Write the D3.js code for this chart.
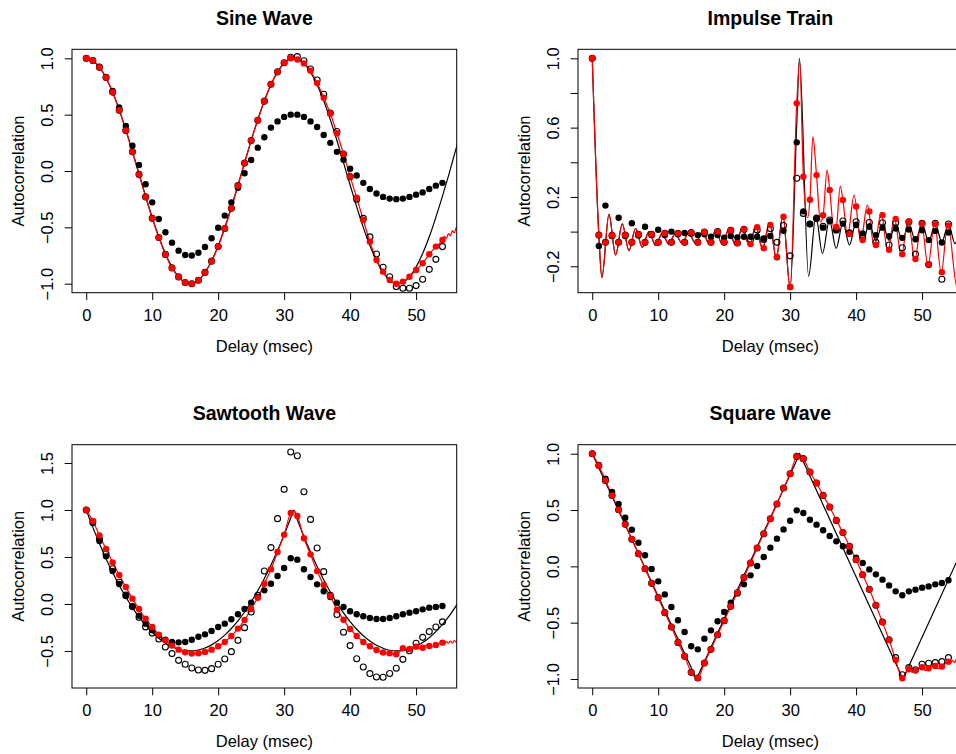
<!DOCTYPE html>
<html><head><meta charset="utf-8">
<script src="https://cdn.jsdelivr.net/npm/d3@7"></script>
<style>
body{margin:0;background:#fff}
svg{display:block}
text{font-family:"Liberation Sans",Arial,Helvetica,sans-serif;fill:#000}
</style>
</head><body>
<svg id="chart" width="956" height="754"></svg>
<script>
// ---------------- data ----------------
const lags = d3.range(0, 55);          // integer delays 0..54 msec
const xTicks = [0, 10, 20, 30, 40, 50];

// Sine wave
const sineTrue = [1,0.980,0.921,0.826,0.698,0.543,0.365,0.174,-0.025,-0.223,-0.411,-0.584,-0.733,-0.853,-0.940,-0.989,-0.999,-0.969,-0.901,-0.797,-0.662,-0.500,-0.318,-0.124,0.075,0.271,0.456,0.623,0.766,0.878,0.956,0.995,0.995,0.956,0.878,0.766,0.623,0.456,0.271,0.075,-0.124,-0.318,-0.500,-0.662,-0.797,-0.901,-0.969,-0.999,-0.989,-0.940,-0.853,-0.733,-0.584,-0.411,-0.223,-0.025,0.185,0.38];
const sineBiased = [1.0,0.98,0.925,0.835,0.71,0.565,0.40,0.225,0.053,-0.118,-0.278,-0.426,-0.544,-0.636,-0.707,-0.745,-0.75,-0.725,-0.674,-0.597,-0.503,-0.396,-0.278,-0.148,-0.02,0.098,0.207,0.30,0.385,0.44,0.48,0.50,0.50,0.48,0.44,0.39,0.32,0.25,0.17,0.10,0.02,-0.04,-0.105,-0.16,-0.20,-0.23,-0.245,-0.25,-0.245,-0.23,-0.21,-0.19,-0.16,-0.13,-0.105];
const sineUnbiased = [1.0,0.98,0.92,0.83,0.70,0.54,0.36,0.17,-0.03,-0.23,-0.42,-0.59,-0.74,-0.86,-0.94,-0.99,-1.0,-0.97,-0.90,-0.80,-0.67,-0.51,-0.33,-0.13,0.07,0.27,0.45,0.62,0.77,0.88,0.96,1.009,1.015,0.979,0.905,0.808,0.681,0.515,0.35,0.15,-0.05,-0.25,-0.42,-0.585,-0.736,-0.854,-0.938,-1.026,-1.04,-1.04,-1.017,-0.96,-0.873,-0.784,-0.671];
const sineRed = [1.0,0.98,0.92,0.83,0.70,0.54,0.36,0.17,-0.03,-0.23,-0.42,-0.59,-0.74,-0.86,-0.94,-0.99,-1.0,-0.97,-0.90,-0.80,-0.67,-0.51,-0.33,-0.13,0.07,0.27,0.45,0.62,0.77,0.88,0.96,1.0,0.99,0.955,0.89,0.78,0.65,0.51,0.335,0.151,-0.05,-0.237,-0.435,-0.627,-0.79,-0.893,-0.967,-1.0,-0.982,-0.938,-0.878,-0.819,-0.739,-0.671,-0.612];
const sineRedTailT = [54.3,54.6,54.9,55.2,55.5,55.8,56.1,56.4];
const sineRedTailV = [-0.58,-0.60,-0.555,-0.575,-0.53,-0.55,-0.50,-0.52];

// Impulse train
const impRed = [1.0,-0.02,-0.062,-0.022,-0.062,-0.02,-0.062,-0.016,-0.062,-0.016,-0.062,-0.01,-0.062,-0.01,-0.062,-0.006,-0.062,-0.003,-0.062,0.0,-0.062,0.007,-0.066,0.013,-0.072,0.025,-0.096,0.038,-0.145,0.086,-0.32,0.74,0.317,0.184,0.326,0.094,0.24,0.027,0.182,-0.013,0.145,-0.048,0.116,-0.077,0.095,-0.105,0.073,-0.13,0.057,-0.158,0.046,-0.19,0.043,-0.234,0.035];
const impBiased = [1.0,-0.083,0.15,-0.025,0.08,-0.025,0.048,-0.022,0.028,-0.02,0.011,-0.02,0.0,-0.015,-0.008,-0.012,-0.02,-0.015,-0.03,-0.02,-0.035,-0.025,-0.033,-0.03,-0.03,-0.03,-0.04,-0.025,-0.148,0.005,-0.32,0.515,0.117,0.044,0.08,0.023,0.06,0.007,0.046,-0.005,0.038,-0.01,0.028,-0.02,0.023,-0.027,0.018,-0.036,0.012,-0.044,0.008,-0.049,0.003,-0.063,-0.005];
const impUnbiased = [1.0,-0.02,-0.062,-0.022,-0.062,-0.02,-0.062,-0.016,-0.062,-0.016,-0.062,-0.01,-0.062,-0.01,-0.062,-0.006,-0.062,-0.003,-0.062,0.0,-0.062,0.007,-0.066,0.013,-0.045,0.01,-0.045,0.018,-0.062,0.035,-0.14,0.308,0.105,0.044,0.075,0.03,0.067,0.012,0.061,-0.01,0.057,-0.033,0.053,-0.062,0.051,-0.077,0.051,-0.093,0.057,-0.13,0.048,-0.19,0.048,-0.275,0.044];
const impTrueT = [0,1,1.46,2.53,3.54,4.55,5.56,6.57,7.58,8.6,9.6,10.6,11.6,12.6,13.6,14.6,15.65,16.7,17.7,18.7,19.7,20.7,21.7,22.8,23.8,24.8,25.8,26.9,27.9,28.9,30.0,31.0,31.4,32.8,33.9,34.9,35.96,36.97,38.0,39.0,40.0,41.0,42.0,43.0,44.0,45.0,46.0,47.0,48.0,49.0,50.0,51.0,52.0,53.0,54.0,55.0,56.0,57.0];
const impTrueV = [1,-0.02,-0.265,0.10,-0.135,0.045,-0.11,0.018,-0.09,0.0,-0.08,-0.01,-0.072,-0.01,-0.068,-0.007,-0.068,0.0,-0.068,0.005,-0.072,0.013,-0.076,0.025,-0.083,0.032,-0.098,0.052,-0.154,0.096,-0.325,0.62,1.0,-0.257,0.09,-0.126,0.067,-0.097,0.051,-0.077,0.057,-0.064,0.048,-0.053,0.044,-0.05,0.044,-0.05,0.044,-0.052,0.044,-0.055,0.044,-0.06,0.044,-0.07,0.04,-0.07];
const impRedLineT = [0,1,1.46,2.53,3.54,4.55,5.56,6.57,7.58,8.6,9.6,10.6,11.6,12.6,13.6,14.6,15.65,16.7,17.7,18.7,19.7,20.7,21.7,22.8,23.8,24.8,25.8,26.9,27.9,28.9,30.0,31.0,31.45,32.0,32.65,33.0,33.45,34.0,34.6,35.0,35.6,36.0,36.65,37.0,37.6,38.0,38.7,39.7,40.7,41.7,42.75,43.8,44.8,45.8,46.85,47.9,48.9,49.9,50.9,51.9,52.9,53.9,55.35,56.4];
const impRedLineV = [1,-0.02,-0.265,0.10,-0.135,0.045,-0.11,0.018,-0.09,0.0,-0.08,-0.01,-0.072,-0.01,-0.068,-0.007,-0.068,0.0,-0.068,0.005,-0.072,0.013,-0.076,0.025,-0.083,0.032,-0.098,0.052,-0.154,0.096,-0.325,0.74,0.98,0.317,0.08,0.184,0.548,0.326,0.055,0.094,0.355,0.24,0.008,0.027,0.263,0.182,-0.025,0.21,-0.058,0.153,-0.087,0.109,-0.116,0.076,-0.14,0.067,-0.164,0.057,-0.2,0.051,-0.24,0.044,-0.33,0.04];

// Sawtooth wave
const sawTrue = [1,0.815,0.643,0.482,0.334,0.198,0.074,-0.038,-0.138,-0.226,-0.301,-0.365,-0.416,-0.455,-0.482,-0.497,-0.500,-0.490,-0.469,-0.435,-0.389,-0.331,-0.261,-0.179,-0.085,0.022,0.140,0.271,0.414,0.569,0.736,0.915,0.897,0.719,0.553,0.399,0.257,0.128,0.011,-0.095,-0.188,-0.269,-0.338,-0.394,-0.439,-0.471,-0.492,-0.500,-0.496,-0.480,-0.452,-0.411,-0.359,-0.294,-0.218,-0.129,-0.028,0.086];
const sawTruePeakT = [31.45];
const sawTruePeakV = [1.0];
const sawBiased = [1.0,0.862,0.67,0.507,0.351,0.213,0.085,-0.025,-0.124,-0.209,-0.28,-0.333,-0.38,-0.404,-0.408,-0.404,-0.38,-0.348,-0.323,-0.287,-0.245,-0.209,-0.163,-0.11,-0.053,0.015,0.074,0.145,0.216,0.298,0.383,0.486,0.472,0.369,0.287,0.209,0.135,0.074,0.014,-0.032,-0.078,-0.11,-0.131,-0.149,-0.16,-0.16,-0.149,-0.131,-0.11,-0.092,-0.078,-0.057,-0.039,-0.032,-0.021];
const sawUnbiased = [1.0,0.876,0.692,0.532,0.375,0.231,0.094,-0.028,-0.142,-0.244,-0.31,-0.372,-0.457,-0.528,-0.60,-0.642,-0.681,-0.702,-0.706,-0.688,-0.642,-0.585,-0.507,-0.387,-0.252,-0.085,0.092,0.351,0.60,0.908,1.22,1.617,1.578,1.195,0.90,0.596,0.344,0.092,-0.113,-0.301,-0.443,-0.582,-0.67,-0.741,-0.777,-0.780,-0.74,-0.684,-0.589,-0.498,-0.418,-0.355,-0.294,-0.245,-0.19];
const sawRed = [1.0,0.883,0.73,0.585,0.443,0.309,0.18,0.057,-0.053,-0.156,-0.245,-0.326,-0.387,-0.443,-0.486,-0.514,-0.528,-0.525,-0.51,-0.486,-0.45,-0.404,-0.34,-0.262,-0.17,-0.053,0.067,0.216,0.369,0.553,0.738,0.968,0.936,0.70,0.528,0.35,0.202,0.085,-0.06,-0.167,-0.266,-0.34,-0.404,-0.45,-0.489,-0.516,-0.525,-0.535,-0.47,-0.479,-0.454,-0.465,-0.447,-0.436,-0.411];
const sawRedExtraT = [31.45,47.5,48.5,49.5,50.5,51.5,52.5,53.5,54.3,54.6,54.9,55.2,55.5,55.8,56.1,56.4];
const sawRedExtraV = [0.99,-0.51,-0.49,-0.455,-0.475,-0.44,-0.455,-0.42,-0.425,-0.40,-0.42,-0.395,-0.415,-0.39,-0.405,-0.38];

// Square wave
const sqTrueT = [0,15.8,31.45,47.1,56.3];
const sqTrueV = [1,-1,1,-1,0.176];
const sqBiased = [1.0,0.90,0.778,0.66,0.553,0.432,0.325,0.21,0.098,-0.024,-0.133,-0.249,-0.361,-0.479,-0.583,-0.71,-0.737,-0.642,-0.568,-0.488,-0.405,-0.322,-0.24,-0.16,-0.08,0.003,0.083,0.166,0.246,0.328,0.405,0.497,0.473,0.414,0.37,0.32,0.269,0.222,0.178,0.13,0.077,0.03,-0.027,-0.071,-0.118,-0.169,-0.222,-0.257,-0.222,-0.207,-0.189,-0.178,-0.16,-0.148,-0.124];
const sqUnbiased = [1.0,0.896,0.763,0.63,0.503,0.373,0.24,0.112,-0.021,-0.151,-0.278,-0.411,-0.538,-0.675,-0.799,-0.941,-0.991,-0.858,-0.737,-0.607,-0.482,-0.355,-0.234,-0.098,0.03,0.163,0.29,0.423,0.553,0.695,0.822,0.976,0.956,0.837,0.74,0.63,0.527,0.408,0.30,0.177,0.059,-0.074,-0.204,-0.346,-0.494,-0.651,-0.81,-0.962,-0.899,-0.918,-0.869,-0.86,-0.855,-0.846,-0.81];
const sqRed = [1.0,0.896,0.763,0.63,0.503,0.373,0.24,0.112,-0.021,-0.151,-0.278,-0.411,-0.538,-0.675,-0.799,-0.941,-0.991,-0.858,-0.737,-0.607,-0.482,-0.355,-0.234,-0.098,0.03,0.163,0.29,0.423,0.553,0.695,0.822,0.976,0.956,0.837,0.74,0.63,0.527,0.408,0.30,0.177,0.059,-0.074,-0.204,-0.346,-0.497,-0.653,-0.831,-0.993,-0.914,-0.925,-0.896,-0.905,-0.884,-0.89,-0.846];
const sqRedExtraT = [31.45,48.5,49.5,50.5,51.5,52.5,53.5,54.3,54.6,54.9,55.2,55.5,55.8,56.1,56.4];
const sqRedExtraV = [0.99,-0.94,-0.90,-0.925,-0.885,-0.91,-0.865,-0.86,-0.835,-0.855,-0.825,-0.845,-0.815,-0.835,-0.805];

// axis tick values
const yTicksUnit = [-1, -0.5, 0, 0.5, 1];
const yTicksImp = [-0.2, 0, 0.2, 0.4, 0.6, 0.8, 1.0];
const yLabelsImp = [-0.2, 0.2, 0.6, 1.0];
const yTicksSaw = [-0.5, 0, 0.5, 1, 1.5];

// ---------------- helpers ----------------
const zip = (ts, vs) => ts.map((t, i) => ({t, v: vs[i]}));
const merge = (a, b) => a.concat(b).sort((p, q) => p.t - q.t);

const panels = [
  {title: "Sine Wave", box: [72, 49.3, 456.7, 292.7], yDom: [-1.08, 1.08],
   yTicks: yTicksUnit, yLabels: yTicksUnit,
   trueLine: zip(d3.range(sineTrue.length), sineTrue), trueCurve: d3.curveMonotoneX,
   redLine: merge(zip(lags, sineRed), zip(sineRedTailT, sineRedTailV)),
   biased: sineBiased, unbiased: sineUnbiased, red: sineRed},
  {title: "Impulse Train", box: [578, 49.3, 962.7, 292.7], yDom: [-0.3525, 1.052],
   yTicks: yTicksImp, yLabels: yLabelsImp,
   trueLine: zip(impTrueT, impTrueV), trueCurve: d3.curveMonotoneX,
   redLine: zip(impRedLineT, impRedLineV),
   biased: impBiased, unbiased: impUnbiased, red: impRed},
  {title: "Sawtooth Wave", box: [72, 444.7, 456.7, 688], yDom: [-0.894, 1.695],
   yTicks: yTicksSaw, yLabels: yTicksSaw,
   trueLine: merge(zip(d3.range(sawTrue.length), sawTrue), zip(sawTruePeakT, sawTruePeakV)), trueCurve: d3.curveMonotoneX,
   redLine: merge(zip(lags, sawRed), zip(sawRedExtraT, sawRedExtraV)),
   biased: sawBiased, unbiased: sawUnbiased, red: sawRed},
  {title: "Square Wave", box: [578, 444.7, 962.7, 688], yDom: [-1.08, 1.08],
   yTicks: yTicksUnit, yLabels: yTicksUnit,
   trueLine: zip(sqTrueT, sqTrueV), trueCurve: d3.curveLinear,
   redLine: merge(zip(lags, sqRed), zip(sqRedExtraT, sqRedExtraV)),
   biased: sqBiased, unbiased: sqUnbiased, red: sqRed}
];

const svg = d3.select("#chart");
const fmt = d3.format(".1f");
const FS = 16.5;

panels.forEach((p, i) => {
  const [L, T, R, B] = p.box;
  const x = d3.scaleLinear().domain([-2.16, 56.16]).range([L, R]);
  const y = d3.scaleLinear().domain(p.yDom).range([B, T]);
  const g = svg.append("g");

  const clipId = "clip" + i;
  g.append("clipPath").attr("id", clipId).append("rect")
    .attr("x", L).attr("y", T).attr("width", R - L).attr("height", B - T);

  const plot = g.append("g").attr("clip-path", `url(#${clipId})`);
  const line = (curve) => d3.line().x(d => x(d.t)).y(d => y(d.v)).curve(curve);

  plot.append("path").datum(p.trueLine)
    .attr("d", line(p.trueCurve)).attr("fill", "none")
    .attr("stroke", "#000").attr("stroke-width", 1.2);
  plot.append("path").datum(p.redLine)
    .attr("d", line(d3.curveMonotoneX)).attr("fill", "none")
    .attr("stroke", "#ff0000").attr("stroke-width", 1.2);

  plot.selectAll(".bias").data(lags).join("circle")
    .attr("cx", k => x(k)).attr("cy", k => y(p.biased[k])).attr("r", 3.2)
    .attr("fill", "#000");
  plot.selectAll(".unb").data(lags).join("circle")
    .attr("cx", k => x(k)).attr("cy", k => y(p.unbiased[k])).attr("r", 3.0)
    .attr("fill", "none").attr("stroke", "#000").attr("stroke-width", 1.1);
  plot.selectAll(".redp").data(lags).join("circle")
    .attr("cx", k => x(k)).attr("cy", k => y(p.red[k])).attr("r", 3.2)
    .attr("fill", "#ff0000");

  // box
  g.append("rect").attr("x", L).attr("y", T).attr("width", R - L).attr("height", B - T)
    .attr("fill", "none").attr("stroke", "#000").attr("stroke-width", 1);

  // x axis
  const gx = g.append("g").attr("transform", `translate(0,${B})`)
    .call(d3.axisBottom(x).tickValues(xTicks).tickSize(7.3).tickSizeOuter(0).tickFormat(d3.format("d")));
  gx.select(".domain").remove();
  gx.selectAll("line").attr("stroke", "#000");
  gx.selectAll("text").attr("y", 28.3).attr("dy", null)
    .attr("font-size", FS).attr("font-family", null).attr("fill", "#000");

  // y axis
  const gy = g.append("g").attr("transform", `translate(${L},0)`)
    .call(d3.axisLeft(y).tickValues(p.yTicks).tickSize(7.3).tickSizeOuter(0)
      .tickFormat(d => p.yLabels.includes(d) ? fmt(d) : ""));
  gy.select(".domain").remove();
  gy.selectAll("line").attr("stroke", "#000");
  gy.selectAll("text").attr("transform", "rotate(-90)")
    .attr("x", 0).attr("y", -18.7).attr("dy", null)
    .attr("text-anchor", "middle").attr("font-size", FS)
    .attr("font-family", null).attr("fill", "#000");

  // labels
  g.append("text").attr("x", (L + R) / 2).attr("y", T - 24.3)
    .attr("text-anchor", "middle").attr("font-weight", "bold")
    .attr("font-size", 19.5).text(p.title);
  g.append("text").attr("x", (L + R) / 2).attr("y", B + 59)
    .attr("text-anchor", "middle").attr("font-size", FS).text("Delay (msec)");
  g.append("text").attr("transform", `translate(${L - 48},${(T + B) / 2}) rotate(-90)`)
    .attr("text-anchor", "middle").attr("font-size", FS).text("Autocorrelation");
});
</script>
</body></html>
